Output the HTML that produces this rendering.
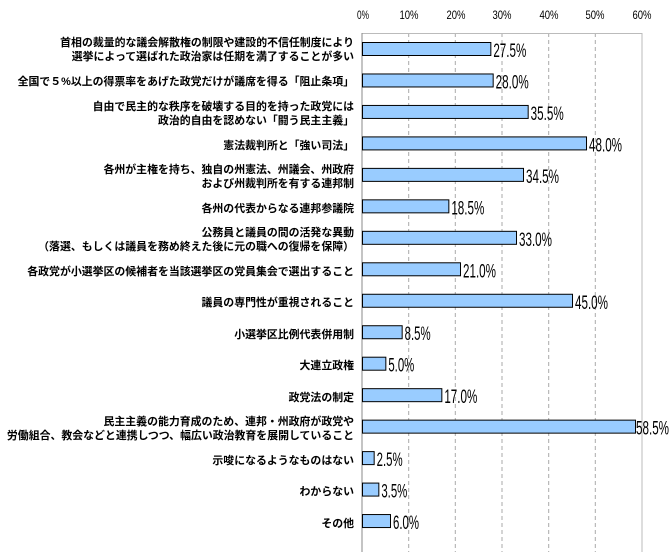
<!DOCTYPE html>
<html><head><meta charset="utf-8"><style>
body{margin:0;background:#fff;}
svg{display:block;}
.l{font-family:"Liberation Sans","Noto Sans CJK JP",sans-serif;font-size:10.9px;font-weight:bold;fill:#000;}
.v{font-family:"Liberation Sans Narrow","Liberation Sans",sans-serif;font-size:19px;fill:#000;}
.t{font-family:"Liberation Sans Narrow","Liberation Sans",sans-serif;font-size:12px;fill:#000;}
</style></head><body>
<svg width="670" height="552" xmlns="http://www.w3.org/2000/svg">
<g stroke="#aaa" stroke-width="1" stroke-dasharray="4,3">
<line x1="408.7" y1="33" x2="408.7" y2="552"/>
<line x1="455.3" y1="33" x2="455.3" y2="552"/>
<line x1="502" y1="33" x2="502" y2="552"/>
<line x1="548.7" y1="33" x2="548.7" y2="552"/>
<line x1="595.3" y1="33" x2="595.3" y2="552"/>
</g>
<line x1="362" y1="33.5" x2="642" y2="33.5" stroke="#bbb"/>
<line x1="642" y1="33" x2="642" y2="552" stroke="#bbb"/>
<line x1="362" y1="33" x2="362" y2="552" stroke="#888"/>
<g class="t" text-anchor="middle">
<text x="363" y="19" textLength="12" lengthAdjust="spacingAndGlyphs">0%</text>
<text x="409" y="19" textLength="19" lengthAdjust="spacingAndGlyphs">10%</text>
<text x="456" y="19" textLength="19" lengthAdjust="spacingAndGlyphs">20%</text>
<text x="502" y="19" textLength="19" lengthAdjust="spacingAndGlyphs">30%</text>
<text x="549" y="19" textLength="19" lengthAdjust="spacingAndGlyphs">40%</text>
<text x="595" y="19" textLength="19" lengthAdjust="spacingAndGlyphs">50%</text>
<text x="642" y="19" textLength="19" lengthAdjust="spacingAndGlyphs">60%</text>
</g>
<g id="bars" fill="#99ccff" stroke="#000" stroke-width="1"></g>
<g class="l" text-anchor="end">
<text x="354" y="46">首相の裁量的な議会解散権の制限や建設的不信任制度により</text>
<text x="354" y="60">選挙によって選ばれた政治家は任期を満了することが多い</text>
<text x="354" y="85">全国で５%以上の得票率をあげた政党だけが議席を得る「阻止条項」</text>
<text x="354" y="110">自由で民主的な秩序を破壊する目的を持った政党には</text>
<text x="354" y="124">政治的自由を認めない「闘う民主主義」</text>
<text x="354" y="149">憲法裁判所と「強い司法」</text>
<text x="354" y="173">各州が主権を持ち、独自の州憲法、州議会、州政府</text>
<text x="354" y="187">および州裁判所を有する連邦制</text>
<text x="354" y="212">各州の代表からなる連邦参議院</text>
<text x="354" y="236">公務員と議員の間の活発な異動</text>
<text x="354" y="250">（落選、もしくは議員を務め終えた後に元の職への復帰を保障）</text>
<text x="354" y="275">各政党が小選挙区の候補者を当該選挙区の党員集会で選出すること</text>
<text x="354" y="306">議員の専門性が重視されること</text>
<text x="354" y="338">小選挙区比例代表併用制</text>
<text x="354" y="369">大連立政権</text>
<text x="354" y="401">政党法の制定</text>
<text x="354" y="425">民主主義の能力育成のため、連邦・州政府が政党や</text>
<text x="354" y="439">労働組合、教会などと連携しつつ、幅広い政治教育を展開していること</text>
<text x="354" y="464">示唆になるようなものはない</text>
<text x="354" y="495">わからない</text>
<text x="354" y="527">その他</text>
</g>
<g id="vals" class="v"></g>
<script>
var v=[27.5,28.0,35.5,48.0,34.5,18.5,33.0,21.0,45.0,8.5,5.0,17.0,58.5,2.5,3.5,6.0];
var b=document.getElementById('bars'),t=document.getElementById('vals'),ns='http://www.w3.org/2000/svg';
v.forEach(function(x,i){var c=49+i*31.47,w=x*4.667;
var r=document.createElementNS(ns,'rect');r.setAttribute('x',362.5);r.setAttribute('y',c-6.5);r.setAttribute('width',w);r.setAttribute('height',13);b.appendChild(r);
var s=document.createElementNS(ns,'text');s.setAttribute('x',362+w+(x>58?1:3));s.setAttribute('y',c+8);
s.setAttribute('textLength',x>=10?33:26);s.setAttribute('lengthAdjust','spacingAndGlyphs');
s.textContent=x.toFixed(1)+'%';t.appendChild(s);});
</script>
</svg>
</body></html>
